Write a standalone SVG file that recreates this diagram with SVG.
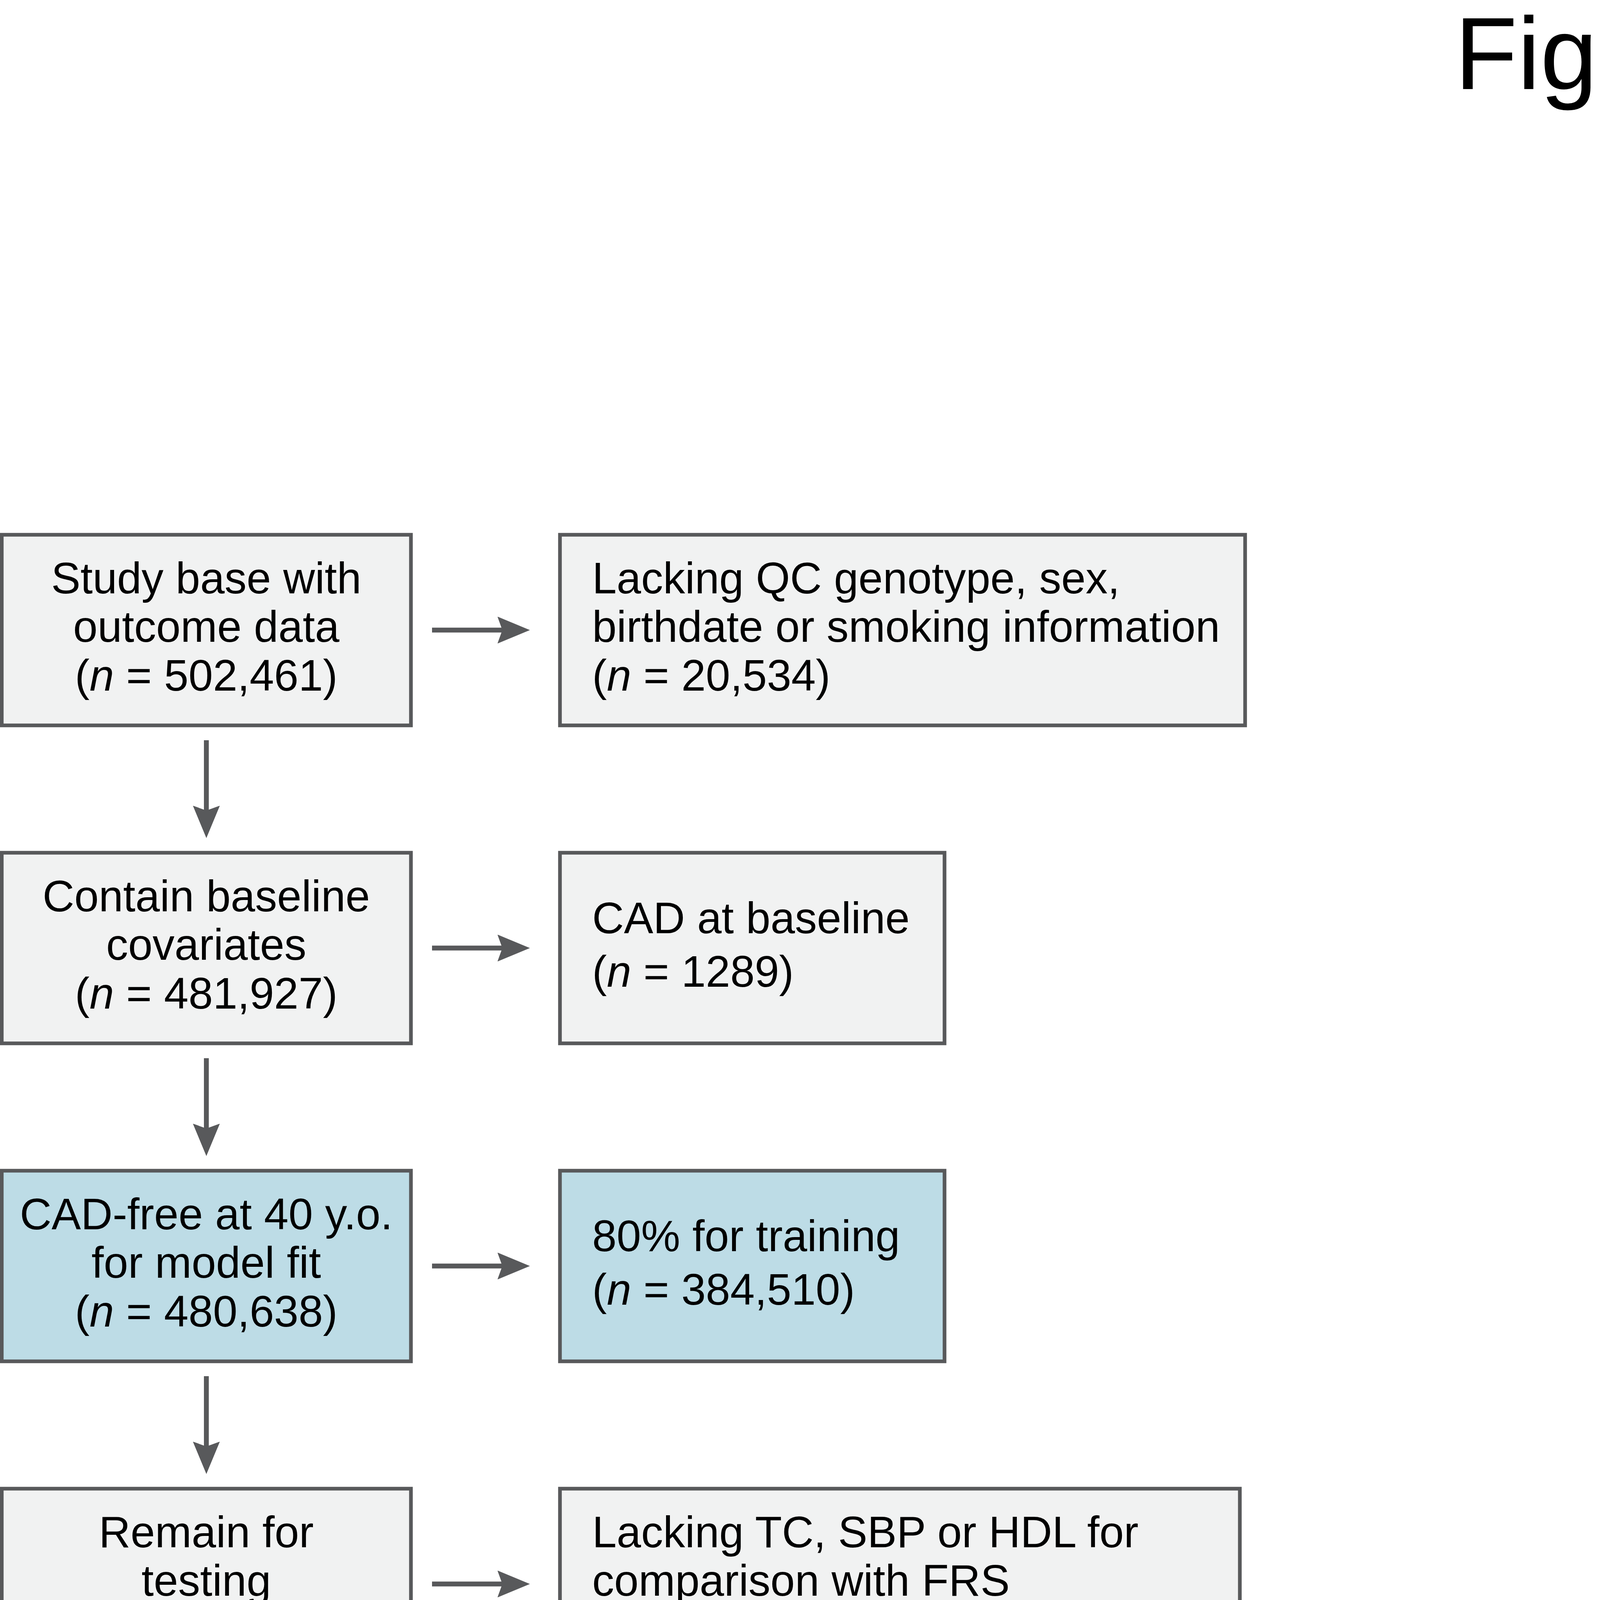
<svg xmlns="http://www.w3.org/2000/svg" width="4683" height="5120" viewBox="0 0 4683 5120">
<style>
.box{stroke:#58595b;stroke-width:9.4}
.g{fill:#f1f2f2}
.b{fill:#bddce6}
text{font-family:"Liberation Sans",Arial,sans-serif;font-size:112.5px;fill:#000}
.c{text-anchor:middle}
.i{font-style:italic}
.arr{stroke:#58595b;stroke-width:12.5;fill:none;marker-end:url(#ah)}
.title{font-size:263px}
</style>
<defs>
<marker id="ah" viewBox="0 0 83 69" refX="12.5" refY="34.5" markerWidth="83" markerHeight="69" markerUnits="userSpaceOnUse" orient="auto">
<path d="M0,0 L83,34.5 L0,69 L12.5,34.5 Z" fill="#58595b"/>
</marker>
</defs>
<rect width="4683" height="5120" fill="#fff"/>
<text id="title" class="title" x="3724" y="228">Figure 1</text>

<g id="n1">
<rect class="box g" x="4.5" y="1369" width="1047.5" height="488"/>
<text class="c" x="528" y="1518.5">Study base with</text>
<text class="c" x="528" y="1643">outcome data</text>
<text class="c" x="528" y="1767.5">(<tspan class="i">n</tspan> = 502,461)</text>
</g>
<g id="n1r">
<rect class="box g" x="1433.5" y="1369" width="1754" height="488"/>
<text x="1516" y="1518.5">Lacking QC genotype, sex,</text>
<text x="1516" y="1643">birthdate or smoking information</text>
<text x="1516" y="1767.5">(<tspan class="i">n</tspan> = 20,534)</text>
</g>

<g id="n2">
<rect class="box g" x="4.5" y="2183" width="1047.5" height="488"/>
<text class="c" x="528" y="2332.5">Contain baseline</text>
<text class="c" x="528" y="2457">covariates</text>
<text class="c" x="528" y="2581.5">(<tspan class="i">n</tspan> = 481,927)</text>
</g>
<g id="n2r">
<rect class="box g" x="1433.5" y="2183" width="984.5" height="488"/>
<text x="1516" y="2388.5">CAD at baseline</text>
<text x="1516" y="2526">(<tspan class="i">n</tspan> = 1289)</text>
</g>

<g id="n3">
<rect class="box b" x="4.5" y="2997" width="1047.5" height="488"/>
<text class="c" x="528" y="3146.5">CAD-free at 40 y.o.</text>
<text class="c" x="528" y="3271">for model fit</text>
<text class="c" x="528" y="3395.5">(<tspan class="i">n</tspan> = 480,638)</text>
</g>
<g id="n3r">
<rect class="box b" x="1433.5" y="2997" width="984.5" height="488"/>
<text x="1516" y="3202.5">80% for training</text>
<text x="1516" y="3340">(<tspan class="i">n</tspan> = 384,510)</text>
</g>

<g id="n4">
<rect class="box g" x="4.5" y="3811" width="1047.5" height="488"/>
<text class="c" x="528" y="3960.5">Remain for</text>
<text class="c" x="528" y="4085">testing</text>
<text class="c" x="528" y="4209.5">(<tspan class="i">n</tspan> = 96,127)</text>
</g>
<g id="n4r">
<rect class="box g" x="1433.5" y="3811" width="1740.5" height="488"/>
<text x="1516" y="3960.5">Lacking TC, SBP or HDL for</text>
<text x="1516" y="4085">comparison with FRS</text>
<text x="1516" y="4209.5">(<tspan class="i">n</tspan> = 17,010)</text>
</g>

<g id="n5">
<rect class="box b" x="4.5" y="4625" width="1047.5" height="488"/>
<text class="c" x="528" y="4775">Available for</text>
<text class="c" x="528" y="4900">testing</text>
<text class="c" x="528" y="5024.5">(<tspan class="i">n</tspan> = 79,117)</text>
</g>

<g id="connectors">
<line class="arr" x1="1106" y1="1613" x2="1286" y2="1613"/>
<line class="arr" x1="1106" y1="2427" x2="1286" y2="2427"/>
<line class="arr" x1="1106" y1="3241" x2="1286" y2="3241"/>
<line class="arr" x1="1106" y1="4055" x2="1286" y2="4055"/>
<line class="arr" x1="528.3" y1="1895" x2="528.3" y2="2075"/>
<line class="arr" x1="528.3" y1="2709" x2="528.3" y2="2889"/>
<line class="arr" x1="528.3" y1="3523" x2="528.3" y2="3703"/>
<line class="arr" x1="528.3" y1="4337" x2="528.3" y2="4517"/>
</g>
</svg>
